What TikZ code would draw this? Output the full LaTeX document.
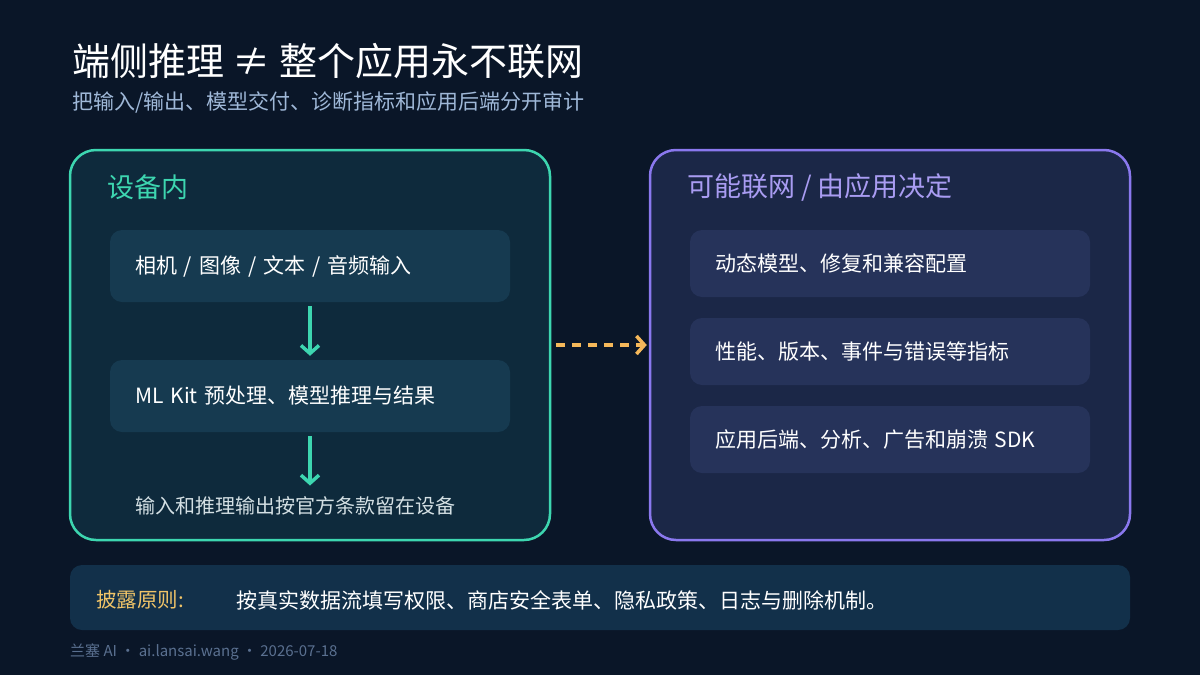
\documentclass[tikz,border=0pt]{standalone}
\usepackage{fontspec}
\usepackage{xcolor}
\usepackage{tikz}
\usetikzlibrary{arrows.meta,positioning}
\setmainfont{Noto Sans CJK SC}

\definecolor{bgnavy}{HTML}{0A1628}
\definecolor{devfill}{HTML}{0E2A3C}
\definecolor{devline}{HTML}{3DD6B0}
\definecolor{devbox}{HTML}{163A50}
\definecolor{netfill}{HTML}{1B2747}
\definecolor{netline}{HTML}{8A78EE}
\definecolor{netbox}{HTML}{26335A}
\definecolor{nethead}{HTML}{A99CF2}
\definecolor{subblue}{HTML}{9FB8D8}
\definecolor{notefill}{HTML}{12304A}
\definecolor{notegold}{HTML}{F0C468}
\definecolor{flowgold}{HTML}{F5B85A}
\definecolor{footgray}{HTML}{5A7090}
\definecolor{keepgray}{HTML}{D4E0E4}

\begin{document}
\begin{tikzpicture}[x=1pt,y=-1pt]
  \tikzstyle{panel} = [rectangle, draw, line width=2.5pt, rounded corners=26pt, minimum width=480pt, minimum height=390pt]
  \tikzstyle{item} = [rectangle, rounded corners=12pt, text=white, text width=350pt, inner xsep=25pt, align=left, font=\fontsize{21}{25}\selectfont]
  \tikzstyle{head} = [anchor=west, inner sep=0pt, font=\fontsize{27}{31}\selectfont]
  \tikzstyle{flow} = [draw=devline, line width=3.5pt, -{Straight Barb[length=8pt,width=18pt,line width=3.5pt]}, shorten <=4pt, shorten >=4pt]
  \tikzstyle{leak} = [draw=flowgold, line width=3.5pt, dash pattern=on 9pt off 7pt, -{Straight Barb[length=8pt,width=18pt,line width=3.5pt]}, shorten <=5pt, shorten >=2pt]

  \fill[bgnavy] (0,0) rectangle (1200,675);
  \useasboundingbox (0,0) rectangle (1200,675);

  % Title
  \node[anchor=west, inner sep=0pt, text=white, font=\fontsize{38}{42}\selectfont] (title) at (72,61) {端侧推理 ≠ 整个应用永不联网};
  \node[anchor=west, inner sep=0pt, text=subblue, font=\fontsize{21}{25}\selectfont] (subtitle) at (72,102) {把输入/输出、模型交付、诊断指标和应用后端分开审计};

  % On-device panel
  \node[panel, draw=devline, fill=devfill] (dev) at (310,345) {};
  \node[head, text=devline] (devhead) at (107,187) {设备内};
  \node[item, fill=devbox, minimum height=72pt] (input) at (310,266) {相机 / 图像 / 文本 / 音频输入};
  \node[item, fill=devbox, minimum height=72pt] (mlkit) at (310,396) {ML Kit 预处理、模型推理与结果};
  \node[anchor=west, inner sep=0pt, text=keepgray, font=\fontsize{20}{24}\selectfont] (keep) at (135,506) {输入和推理输出按官方条款留在设备};

  \draw[flow] (input) -- (mlkit);
  \draw[flow, shorten >=11pt] (mlkit.south) -- (mlkit.south |- keep.north);

  % Network panel
  \node[panel, draw=netline, fill=netfill] (net) at (890,345) {};
  \node[head, text=nethead] (nethead) at (687,187) {可能联网 / 由应用决定};
  \node[item, fill=netbox, minimum height=67pt] (models) at (890,263.5) {动态模型、修复和兼容配置};
  \node[item, fill=netbox, minimum height=67pt] (metrics) at (890,351.5) {性能、版本、事件与错误等指标};
  \node[item, fill=netbox, minimum height=67pt] (sdks) at (890,439.5) {应用后端、分析、广告和崩溃 SDK};

  \draw[leak] (dev.east) -- (net.west);

  % Disclosure note
  \node[rectangle, fill=notefill, rounded corners=12pt, minimum width=1060pt, minimum height=65pt] (note) at (600,597.5) {};
  \node[anchor=west, inner sep=0pt, text=notegold, font=\fontsize{20.5}{24}\selectfont] (notelabel) at (96,600) {披露原则:};
  \node[anchor=west, inner sep=0pt, text=white, font=\fontsize{21}{25}\selectfont] (notetext) at (236,600) {按真实数据流填写权限、商店安全表单、隐私政策、日志与删除机制。};

  % Footer
  \node[anchor=west, inner sep=0pt, text=footgray, font=\fontsize{15}{18}\selectfont] (foot) at (70,652) {兰塞 AI · ai.lansai.wang · 2026-07-18};
\end{tikzpicture}
\end{document}
